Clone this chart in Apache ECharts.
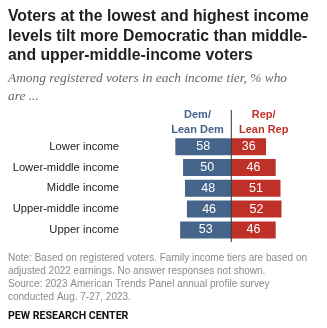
<!DOCTYPE html>
<html>
<head>
<meta charset="utf-8">
<script src="https://cdn.jsdelivr.net/npm/echarts@6/dist/echarts.min.js"></script>
<style>
  html, body { margin: 0; padding: 0; background: #fff; }
  #chart { width: 327px; height: 328px; }
</style>
</head>
<body>
<div id="chart"></div>
<script>
// Income tiers, top to bottom
const categories = ['Lower income', 'Lower-middle income', 'Middle income', 'Upper-middle income', 'Upper income'];
// Share of registered voters (%)
const demValues = [58, 50, 48, 46, 53];
const repValues = [36, 46, 51, 52, 46];

const DEM = '#44648a';
const REP = '#bf3128';
const SANS = '"Liberation Sans", Arial, sans-serif';

const chart = echarts.init(document.getElementById('chart'), null, { renderer: 'canvas' });

const gridLeft = 173.4, gridRight = 327 - 289.2;

chart.setOption({
  animation: false,
  backgroundColor: '#fff',
  title: [{
    text: 'Voters at the lowest and highest income\nlevels tilt more Democratic than middle-\nand upper-middle-income voters',
    left: 8, top: 7, padding: 0,
    textStyle: { fontFamily: SANS, fontWeight: 'bold', fontSize: 15.8, lineHeight: 19.5, color: '#222' }
  }, {
    text: 'Among registered voters in each income tier, % who\nare ...',
    left: 8, top: 70, padding: 0,
    textStyle: { fontFamily: '"Liberation Serif", "DejaVu Serif", serif', fontStyle: 'italic', fontWeight: 'normal', fontSize: 13.4, lineHeight: 17.5, color: '#666' }
  }, {
    text: 'Note: Based on registered voters. Family income tiers are based on\nadjusted 2022 earnings. No answer responses not shown.\nSource: 2023 American Trends Panel annual profile survey\nconducted Aug. 7-27, 2023.',
    left: 8, top: 252, padding: 0,
    textStyle: { fontFamily: SANS, fontWeight: 'normal', fontSize: 10, lineHeight: 12.8, color: '#8a8a8a' }
  }, {
    text: 'PEW RESEARCH CENTER',
    left: 8, top: 311, padding: 0,
    textStyle: { fontFamily: 'Roboto, sans-serif', fontWeight: 'bold', fontSize: 10.6, color: '#111' }
  }],
  grid: { left: gridLeft, right: gridRight, top: 136.3, height: 104, containLabel: false },
  xAxis: {
    type: 'value', min: -60, max: 60,
    show: false
  },
  yAxis: {
    type: 'category', data: categories, inverse: true,
    axisLine: { show: false }, axisTick: { show: false }, splitLine: { show: false },
    axisLabel: { margin: gridLeft - 119, fontFamily: SANS, fontSize: 11.2, color: '#222' }
  },
  series: [{
    name: 'Dem/Lean Dem', type: 'bar', stack: 'total', barWidth: 17,
    data: demValues.map(v => -v),
    itemStyle: { color: DEM },
    label: { show: true, position: 'inside', color: '#fff', fontFamily: SANS, fontSize: 12.5,
      formatter: p => Math.abs(p.value) }
  }, {
    name: 'Rep/Lean Rep', type: 'bar', stack: 'total', barWidth: 17,
    data: repValues,
    itemStyle: { color: REP },
    label: { show: true, position: 'inside', color: '#fff', fontFamily: SANS, fontSize: 12.5 }
  }]
});

// Column headers and the zero divider
const x0 = chart.convertToPixel({ xAxisIndex: 0 }, 0);
chart.setOption({
  graphic: [{
    type: 'line', z: 10,
    shape: { x1: x0, y1: 110, x2: x0, y2: 242 },
    style: { stroke: '#333', lineWidth: 1 }
  }, {
    type: 'text', x: 197.5, y: 122.5,
    style: { text: 'Dem/\nLean Dem', fill: DEM, font: 'bold 11px ' + SANS, textAlign: 'center', textVerticalAlign: 'middle', lineHeight: 15 }
  }, {
    type: 'text', x: 263.7, y: 122.5,
    style: { text: 'Rep/\nLean Rep', fill: REP, font: 'bold 11px ' + SANS, textAlign: 'center', textVerticalAlign: 'middle', lineHeight: 15 }
  }]
});
</script>
</body>
</html>
